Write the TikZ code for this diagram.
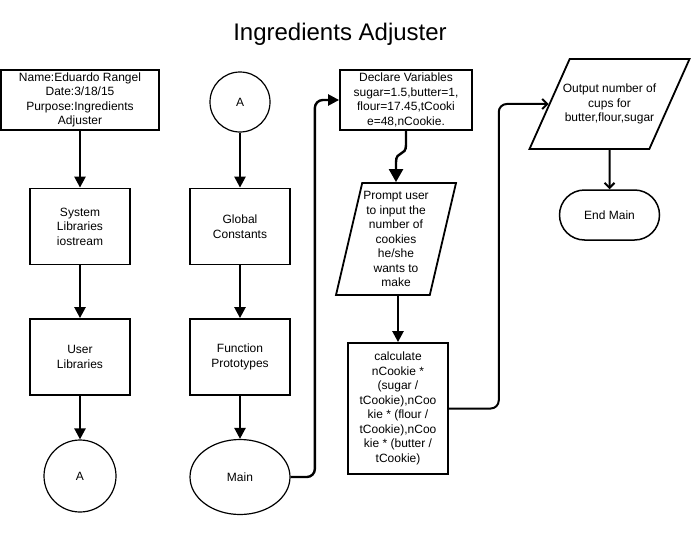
\documentclass[tikz,border=0pt]{standalone}
\usepackage{fontspec}
\setmainfont{Liberation Sans}
\usetikzlibrary{shapes.geometric, arrows.meta, calc}

\begin{document}
\begin{tikzpicture}[x=1pt, y=-1pt,
    every node/.style={font=\fontsize{12}{14.5}\selectfont, align=center, inner sep=0pt},
    procbox/.style={draw, line width=1.8pt, rectangle, minimum width=100pt, minimum height=76pt},
    offpage/.style={draw, line width=1.2pt, circle},
    iobox/.style={draw, line width=1.8pt, trapezium, trapezium stretches body=true},
    flow/.style={line width=2.4pt, -{Triangle[width=11pt,length=11pt]}},
    openflow/.style={line width=2pt, -{Straight Barb[width=10pt,length=5pt]}}]
    \useasboundingbox (0,0) rectangle (695,535);

    % Title
    \node[font=\fontsize{24}{28}\selectfont] (title) at (340,34) {Ingredients Adjuster};

    % First column
    \node[procbox, minimum width=158pt, minimum height=60pt] (header) at (80,100)
        {Name:Eduardo Rangel\\Date:3/18/15\\Purpose:Ingredients\\Adjuster};
    \node[procbox] (syslib) at (80,226.5) {System\\Libraries\\iostream};
    \node[procbox] (usrlib) at (80,357) {User\\Libraries};
    \node[offpage, minimum size=72pt] (conA) at (80,476) {A};

    % Second column
    \node[offpage, minimum size=60pt] (conB) at (240,102) {A};
    \node[procbox] (globals) at (240,226.5) {Global\\Constants};
    \node[procbox] (protos) at (240,357) {Function\\Prototypes};
    \node[draw, line width=1.2pt, ellipse, minimum width=100pt, minimum height=75pt] (main) at (240,477) {Main};

    % Third column
    \node[procbox, minimum width=132pt, minimum height=60pt] (declare) at (406,100)
        {Declare Variables\\sugar=1.5,butter=1,\\flour=17.45,tCooki\\e=48,nCookie.};
    \node[iobox, trapezium left angle=76.4, trapezium right angle=103.6, inner ysep=6.5pt,
        minimum width=120pt, minimum height=112pt] (prompt) at (396,239)
        {Prompt user\\to input the\\number of\\cookies\\he/she\\wants to\\make};
    \node[procbox, minimum height=131pt] (calc) at (398,408.5)
        {calculate\\nCookie *\\(sugar /\\tCookie),nCoo\\kie * (flour /\\tCookie),nCoo\\kie * (butter /\\tCookie)};

    % Fourth column
    \node[iobox, trapezium left angle=65.5, trapezium right angle=114.5, inner ysep=24pt, inner xsep=-8pt,
        minimum width=160pt, minimum height=90pt] (output) at (609.5,104)
        {Output number of\\cups for\\butter,flour,sugar};
    \node[draw, line width=1.5pt, rectangle, rounded corners=25pt,
        minimum width=100pt, minimum height=50pt] (endmain) at (609.5,215) {End Main};

    % Connectors
    \draw[flow] (header) -- (syslib);
    \draw[flow] (syslib) -- (usrlib);
    \draw[flow] (usrlib) -- (conA);
    \draw[flow] (conB) -- (globals);
    \draw[flow] (globals) -- (protos);
    \draw[flow] (protos) -- (main);
    \draw[flow, rounded corners=8pt] (main.east) -| ($(main.east)!0.5!(declare.west)$) |- (declare.west);
    \draw[flow, -{Triangle[width=14pt,length=13pt]}] (declare.south) -- ++(0,14)
        .. controls +(0,12) and +(0,-12) .. ($(prompt.north)+(0,-20)$) -- (prompt.north);
    \draw[flow] (prompt.south -| calc.north) -- (calc.north);
    \draw[openflow, rounded corners=8pt] (calc.east) -| ($(calc.east)!0.5!(output.west)$) |- (output.west);
    \draw[openflow] (output.south) -- (endmain.north);
\end{tikzpicture}
\end{document}
